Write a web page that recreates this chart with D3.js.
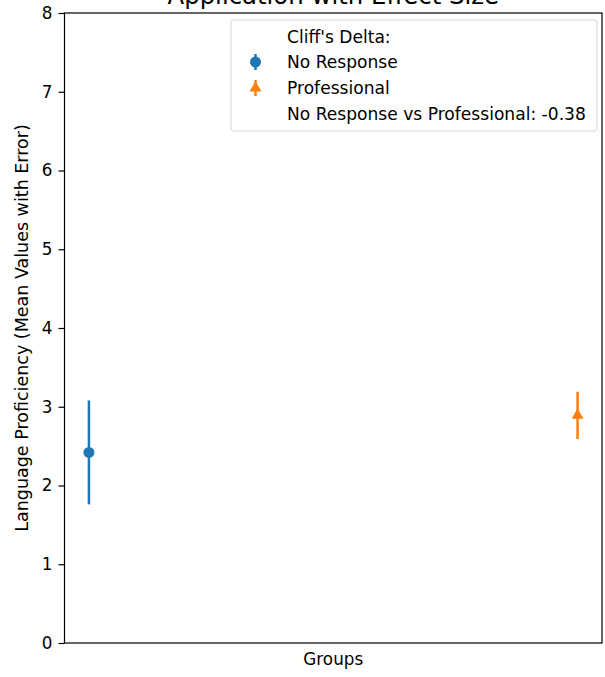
<!DOCTYPE html>
<html><head><meta charset="utf-8">
<script src="https://cdn.jsdelivr.net/npm/d3@7"></script>
<style>body{margin:0;background:#fff}svg{display:block}text{font-family:"DejaVu Sans",sans-serif;fill:#000}</style>
</head><body>
<svg id="c" width="605" height="677"></svg>
<script>
const groups = ["No Response", "Professional"];
const means = [2.42, 2.89];
const errors = [0.66, 0.30];
const colors = ["#1f77b4", "#ff7f0e"];
const yTicks = [0, 1, 2, 3, 4, 5, 6, 7, 8];
const cliffsDelta = -0.38;
const title = "Application with Effect Size";

const FS = "16.8px";
const m = {left: 64.5, right: 602, top: 13, bottom: 643};
const svg = d3.select("#c");

const x = d3.scaleLinear().domain([-0.05, 1.05]).range([m.left, m.right]);
const y = d3.scaleLinear().domain([0, 8]).range([m.bottom, m.top]);

const ya = svg.append("g").attr("transform", `translate(${m.left},0)`)
  .call(d3.axisLeft(y).tickValues(yTicks).tickSize(6).tickPadding(6).tickFormat(d3.format("d")));
ya.select(".domain").remove();
ya.selectAll("text").style("font-size", FS).style("font-family", "DejaVu Sans");
ya.selectAll("line").attr("stroke", "#000").attr("stroke-width", 1.2);

svg.append("rect").attr("x", m.left).attr("y", m.top)
  .attr("width", m.right - m.left).attr("height", m.bottom - m.top)
  .attr("fill", "none").attr("stroke", "#000").attr("stroke-width", 1.2);

svg.append("text").attr("x", (m.left + m.right) / 2).attr("y", 4)
  .attr("text-anchor", "middle").style("font-size", "24.4px").text(title);

svg.append("text").attr("x", (m.left + m.right) / 2).attr("y", 665)
  .attr("text-anchor", "middle").style("font-size", FS).text("Groups");

svg.append("text").attr("transform", `translate(28,${(m.top + m.bottom) / 2}) rotate(-90)`)
  .attr("text-anchor", "middle").style("font-size", "17.5px")
  .text("Language Proficiency (Mean Values with Error)");

const tri = d3.symbol().type(d3.symbolTriangle).size(62);

groups.forEach((g, i) => {
  const cx = x(i), cy = y(means[i]);
  svg.append("line").attr("x1", cx).attr("x2", cx)
    .attr("y1", y(means[i] - errors[i])).attr("y2", y(means[i] + errors[i]))
    .attr("stroke", colors[i]).attr("stroke-width", 2.5);
  if (i === 0) {
    svg.append("circle").attr("cx", cx).attr("cy", cy).attr("r", 5.5).attr("fill", colors[i]);
  } else {
    svg.append("path").attr("d", tri).attr("transform", `translate(${cx},${cy})`).attr("fill", colors[i]);
  }
});

const lg = svg.append("g");
lg.append("rect").attr("x", 231).attr("y", 20).attr("width", 366).attr("height", 111)
  .attr("rx", 3).attr("fill", "#fff").attr("fill-opacity", 0.8)
  .attr("stroke", "#d5d5d5").attr("stroke-width", 1);
const rows = [
  {label: "Cliff's Delta:", y: 37},
  {label: groups[0], y: 62, k: 0},
  {label: groups[1], y: 88, k: 1},
  {label: `${groups[0]} vs ${groups[1]}: ${cliffsDelta.toFixed(2)}`, y: 114}
];
rows.forEach(r => {
  lg.append("text").attr("x", 287).attr("y", r.y + 6).style("font-size", "17.1px").text(r.label);
  if (r.k !== undefined) {
    const mx = 255.5;
    lg.append("line").attr("x1", mx).attr("x2", mx).attr("y1", r.y - 8).attr("y2", r.y + 8)
      .attr("stroke", colors[r.k]).attr("stroke-width", 2.5);
    if (r.k === 0) lg.append("circle").attr("cx", mx).attr("cy", r.y).attr("r", 5.5).attr("fill", colors[0]);
    else lg.append("path").attr("d", tri).attr("transform", `translate(${mx},${r.y})`).attr("fill", colors[1]);
  }
});
</script>
</body></html>
